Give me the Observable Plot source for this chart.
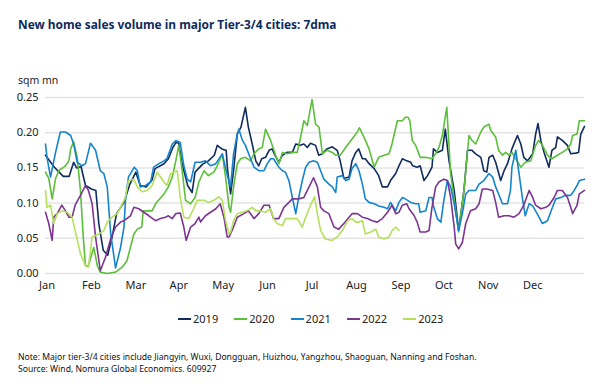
<!DOCTYPE html>
<html>
<head>
<meta charset="utf-8">
<script src="https://cdn.jsdelivr.net/npm/d3@7"></script>
<script src="https://cdn.jsdelivr.net/npm/@observablehq/plot@0.6"></script>
<style>
  body { margin:0; background:#fff; font-family:"Noto Sans", "Open Sans", sans-serif; }
  #wrap { position:relative; width:602px; height:384px; overflow:hidden; background:#fff; }
  #chart { position:absolute; left:0; top:0; }
  .abs { position:absolute; white-space:nowrap; }
  #title { left:18px; top:16px; font-size:11.9px; font-weight:700; color:#0d2b5c; }
  #unit { left:18px; top:73px; font-size:10.5px; color:#222; }
  #legend { left:178px; top:311px; display:flex; font-size:11px; color:#222; }
  .item { display:flex; align-items:center; width:56.3px; }
  .swatch { width:13px; height:2px; margin-right:2px; }
  #note { left:18px; top:351px; font-size:8.6px; color:#111; line-height:12px; }
</style>
</head>
<body>
<div id="wrap">
  <div id="chart"></div>
  <div id="title" class="abs">New home sales volume in major Tier-3/4 cities: 7dma</div>
  <div id="unit" class="abs">sqm mn</div>
  <div id="legend" class="abs"></div>
  <div id="note" class="abs">Note: Major tier-3/4 cities include Jiangyin, Wuxi, Dongguan, Huizhou, Yangzhou, Shaoguan, Nanning and Foshan.<br>Source: Wind, Nomura Global Economics. 609927</div>
</div>
<script>
// ---- data: [day of year, value in sqm mn] ----
const years = ["2019", "2020", "2021", "2022", "2023"];
const colors = ["#0f2c5c", "#5cbf3a", "#1584cc", "#7b3590", "#b5e05c"];
const monthLabels = ["Jan","Feb","Mar","Apr","May","Jun","Jul","Aug","Sep","Oct","Nov","Dec"];
const monthTickDays = [1, 31, 61, 90, 120, 150, 180, 210, 240, 269, 299, 329];
const yTicks = [0, 0.05, 0.10, 0.15, 0.20, 0.25];

const s2019 = [[0,.168],[6,.151],[12,.138],[16,.138],[19,.158],[21,.150],[24,.152],[27,.125],[31,.120],[34,.118],[36,.071],[39,.033],[42,.026],[45,.052],[48,.085],[53,.101],[57,.127],[61,.144],[64,.125],[68,.123],[72,.133],[74,.149],[80,.156],[83,.163],[86,.179],[88,.186],[90,.185],[92,.158],[96,.125],[99,.115],[101,.144],[106,.155],[110,.160],[114,.168],[116,.182],[119,.177],[122,.175],[123,.146],[125,.113],[127,.146],[129.5,.198],[132,.208],[135,.236],[137,.208],[139.6,.184],[142,.160],[144,.153],[146,.163],[148.6,.165],[151,.175],[153,.177],[155,.168],[157.6,.158],[160,.168],[163,.172],[166.7,.172],[169,.184],[172,.182],[174.5,.184],[176.8,.179],[179,.185],[182.4,.182],[184.5,.168],[187,.170],[190,.177],[193.7,.180],[197,.175],[199,.160],[201.5,.135],[205,.137],[207,.160],[209.5,.172],[211.5,.177],[214,.163],[216,.163],[218.5,.156],[222,.149],[225,.139],[227.5,.123],[231,.123],[233,.132],[236.5,.142],[238.7,.153],[241,.163],[244,.160],[246.6,.158],[248,.153],[251,.151],[253,.153],[255.6,.132],[258,.139],[261,.151],[262,.177],[264.6,.172],[268,.175],[270,.205],[272.5,.160],[276,.118],[279,.061],[282.6,.118],[285,.175],[288,.175],[290.5,.170],[294,.165],[296,.146],[298,.144],[299.5,.165],[302,.168],[304,.158],[307.4,.132],[309.7,.146],[312,.156],[315,.177],[318.7,.196],[321,.184],[323,.165],[325.5,.160],[329,.170],[331,.198],[332.6,.213],[334.5,.189],[336.7,.172],[340,.151],[342,.175],[344.6,.179],[345.7,.194],[349,.189],[352.5,.182],[354.7,.170],[358,.171],[360,.172],[361.5,.198],[364,.209]];

const s2020 = [[0,.144],[2.2,.135],[4.5,.106],[6.8,.135],[9,.146],[13.5,.153],[15.8,.160],[17,.177],[19,.187],[21.4,.165],[23.6,.118],[25.5,.052],[27,.011],[29,.011],[32.6,.037],[35,.011],[37,.002],[41.7,0],[47.3,.002],[51.8,.009],[55,.018],[59.7,.056],[62,.063],[65,.066],[66,.089],[72,.089],[74.3,.099],[80,.113],[83,.123],[85.6,.137],[88,.160],[90,.182],[92.3,.146],[94.6,.104],[98,.099],[101,.108],[103.6,.130],[107,.146],[110,.139],[113.7,.144],[116,.153],[119.4,.170],[121.6,.137],[124,.094],[125,.087],[127,.123],[129.5,.156],[131.8,.163],[135,.165],[138.5,.160],[140.8,.170],[144,.177],[146.4,.179],[148.6,.205],[152,.189],[155.4,.168],[157.6,.156],[160,.172],[163,.170],[166.7,.172],[170,.172],[172,.191],[174.5,.217],[176.8,.210],[180,.247],[182.4,.212],[184.7,.208],[187,.170],[190,.175],[193.7,.172],[196,.168],[199,.168],[202.7,.179],[207,.191],[210.6,.201],[212,.207],[215,.194],[218.5,.177],[222,.151],[225,.165],[228.6,.168],[232,.170],[234,.184],[237.6,.217],[241,.217],[243,.222],[244.8,.222],[246,.217],[247.7,.189],[250,.182],[253,.165],[256.8,.165],[261,.163],[263.5,.170],[265.7,.179],[268,.196],[271,.236],[273.6,.142],[279,.059],[282.6,.118],[286,.196],[288,.189],[290.5,.184],[294,.201],[296,.208],[299.5,.212],[300.7,.203],[304,.194],[306,.175],[308.6,.168],[310.8,.172],[313,.168],[315,.172],[317.6,.163],[321,.151],[324,.158],[327.7,.160],[331,.182],[333,.189],[335.6,.182],[339,.168],[342,.163],[345.7,.168],[349,.172],[352.5,.177],[354.7,.184],[356,.196],[359,.198],[360.5,.217],[364,.217]];

const s2021 = [[0,.184],[1,.165],[3.4,.137],[6.8,.172],[10,.201],[13.5,.201],[17,.196],[19,.184],[21.4,.158],[24.8,.153],[27,.156],[30.4,.185],[33.8,.175],[37,.146],[39.4,.142],[41.7,.123],[44,.057],[47.3,.008],[50.7,.037],[53,.066],[54,.104],[56,.137],[60,.151],[62,.146],[64,.123],[67.6,.125],[71,.130],[73,.151],[76.6,.156],[80,.160],[82,.163],[85.6,.184],[88,.189],[91,.186],[93.4,.153],[95.7,.134],[98,.130],[101,.158],[104.7,.158],[108,.160],[111.5,.153],[115,.156],[119.4,.170],[122.7,.140],[125,.123],[127,.170],[129.5,.198],[130.6,.205],[133,.189],[135,.182],[138.5,.163],[140.8,.151],[144,.146],[147.5,.146],[149.8,.156],[152,.163],[154,.163],[157.6,.151],[160,.146],[162,.144],[164.4,.132],[166.7,.108],[169,.085],[171,.108],[173.4,.132],[175.7,.151],[178,.158],[181,.160],[183.6,.158],[185.8,.146],[188,.134],[191.4,.127],[193.7,.123],[196,.115],[197,.137],[200.5,.139],[202.7,.132],[205,.134],[207,.149],[209.5,.156],[211.7,.146],[214,.127],[216,.106],[218.5,.101],[222,.099],[225,.096],[228.6,.094],[231,.092],[233,.101],[236.5,.089],[238.7,.101],[241,.108],[243,.106],[246.6,.101],[250,.099],[252,.099],[253,.087],[256.8,.089],[259,.108],[261,.108],[262,.096],[264.6,.078],[267,.073],[269,.104],[271.4,.132],[273.6,.123],[276,.099],[279,.061],[281.5,.085],[283.8,.113],[286,.118],[290.5,.118],[292.8,.127],[296,.132],[299.5,.142],[302,.137],[304,.123],[306,.113],[308.6,.099],[312,.099],[314,.118],[315,.151],[317.6,.175],[319.8,.142],[322,.108],[324,.082],[326.6,.099],[329,.096],[332,.085],[335.6,.071],[339,.075],[342,.092],[344.6,.106],[348,.108],[351,.111],[354.7,.111],[357,.118],[359,.125],[360.5,.132],[364,.134]];

const s2022 = [[0,.087],[2.2,.071],[4.5,.047],[5.6,.080],[7.9,.085],[11,.097],[13.5,.089],[15.8,.080],[18,.080],[20,.097],[23.6,.111],[27,.125],[29,.118],[31.5,.099],[33.8,.052],[37,.004],[40.5,.023],[44,.049],[47.3,.066],[50.7,.073],[53,.075],[57.4,.082],[59.7,.094],[63,.092],[66.4,.087],[69.8,.082],[74.3,.075],[77.7,.078],[81,.080],[83,.082],[85.6,.078],[88,.085],[91,.086],[93.4,.066],[95,.047],[98,.066],[101,.071],[103.6,.080],[104.7,.073],[108,.082],[111.5,.087],[115,.092],[118,.099],[120.5,.080],[122.7,.052],[124,.052],[127,.066],[129.5,.080],[134,.085],[137,.089],[140.8,.078],[144,.085],[147.5,.097],[151,.097],[154,.078],[157.6,.078],[161,.094],[164.4,.101],[166.7,.106],[171,.106],[174.5,.108],[178,.123],[181,.136],[183.6,.123],[185.8,.094],[188,.089],[191.4,.085],[194.8,.066],[198,.063],[201.5,.071],[205,.080],[207,.085],[210.6,.085],[214,.080],[217.4,.078],[220.7,.075],[224,.073],[227.5,.078],[231,.087],[234,.097],[236.5,.085],[238.7,.087],[241,.097],[244,.099],[245.5,.092],[249,.082],[251,.073],[253,.059],[256.8,.059],[259,.061],[261,.094],[263.5,.123],[265.7,.130],[269,.134],[271.4,.132],[273.6,.108],[276,.066],[277,.042],[279,.035],[281.5,.044],[283.8,.071],[287,.089],[290.5,.092],[292.8,.099],[295,.120],[298,.120],[302,.118],[304,.101],[306,.080],[309.7,.082],[313,.082],[316.4,.080],[319.8,.085],[323,.097],[326.6,.118],[329,.108],[331,.097],[334.5,.092],[338,.094],[340,.097],[343.5,.108],[345.7,.118],[349,.118],[352.5,.108],[354.7,.094],[356,.085],[359,.097],[360.5,.113],[364,.118]];

const s2023 = [[0,.118],[1,.094],[3.4,.097],[5.6,.071],[7.9,.085],[11,.089],[14.6,.087],[18,.080],[20,.061],[23.6,.028],[27,.011],[29,.009],[31.5,.052],[36,.056],[39.4,.061],[41.7,.073],[45,.080],[48.4,.085],[50.7,.094],[54,.108],[56,.132],[59.7,.134],[62,.123],[65,.116],[68.7,.118],[72,.125],[75.5,.144],[77.7,.137],[80,.130],[82,.125],[84.5,.142],[86.7,.144],[89,.146],[91,.108],[93.4,.080],[96.8,.078],[100,.092],[102.5,.104],[107,.104],[110,.101],[113.7,.104],[117,.109],[119.4,.104],[121.6,.075],[124,.056],[125,.059],[127,.075],[129.5,.085],[133,.087],[136,.089],[139.7,.094],[142,.089],[145,.089],[148.6,.087],[152,.092],[154,.078],[156.5,.071],[160,.068],[162,.078],[165.5,.078],[170,.078],[173.4,.066],[175.7,.080],[179,.097],[181.7,.109],[183.6,.085],[185.8,.061],[189,.049],[193.7,.047],[197,.052],[200.5,.061],[204,.075],[207,.078],[209.5,.073],[211.7,.073],[214,.075],[216,.056],[219.6,.059],[223,.063],[225,.052],[228.6,.049],[232,.052],[234,.061],[236.5,.066],[238.7,.061]];

const seriesList = [s2019, s2020, s2021, s2022, s2023];
const rows = seriesList.flatMap((s, i) => s.map(([day, value]) => ({year: years[i], day, value})));

const chart = Plot.plot({
  width: 602,
  height: 300,
  marginLeft: 45,
  marginRight: 18,
  marginTop: 97,
  marginBottom: 27,
  style: {background: "transparent", fontFamily: "'Noto Sans', sans-serif", fontSize: "11px", color: "#222"},
  x: {domain: [0, 364], ticks: monthTickDays, tickFormat: (d, i) => monthLabels[i], tickSize: 0, tickPadding: 8, label: null},
  y: {domain: [0, 0.25], ticks: yTicks, tickFormat: d3.format(".2f"), tickSize: 0, tickPadding: 7, label: null},
  color: {domain: years, range: colors},
  marks: [
    Plot.gridY(yTicks, {stroke: "#e4e4e4", strokeOpacity: 1, strokeWidth: 1.5}),
    Plot.axisX({ticks: monthTickDays, tickFormat: (d, i) => monthLabels[i], tickSize: 0, tickPadding: 8, label: null, fontSize: 11}),
    Plot.axisY({ticks: yTicks, tickFormat: d3.format(".2f"), tickSize: 0, tickPadding: 7, label: null, fontSize: 11}),
    Plot.line(rows, {x: "day", y: "value", z: "year", stroke: "year", strokeWidth: 1.6, strokeLinejoin: "round"})
  ]
});
document.getElementById("chart").appendChild(chart);

const legend = document.getElementById("legend");
years.forEach((y, i) => {
  const item = document.createElement("div");
  item.className = "item";
  item.innerHTML = `<span class="swatch" style="background:${colors[i]}"></span><span>${y}</span>`;
  legend.appendChild(item);
});
</script>
</body>
</html>
